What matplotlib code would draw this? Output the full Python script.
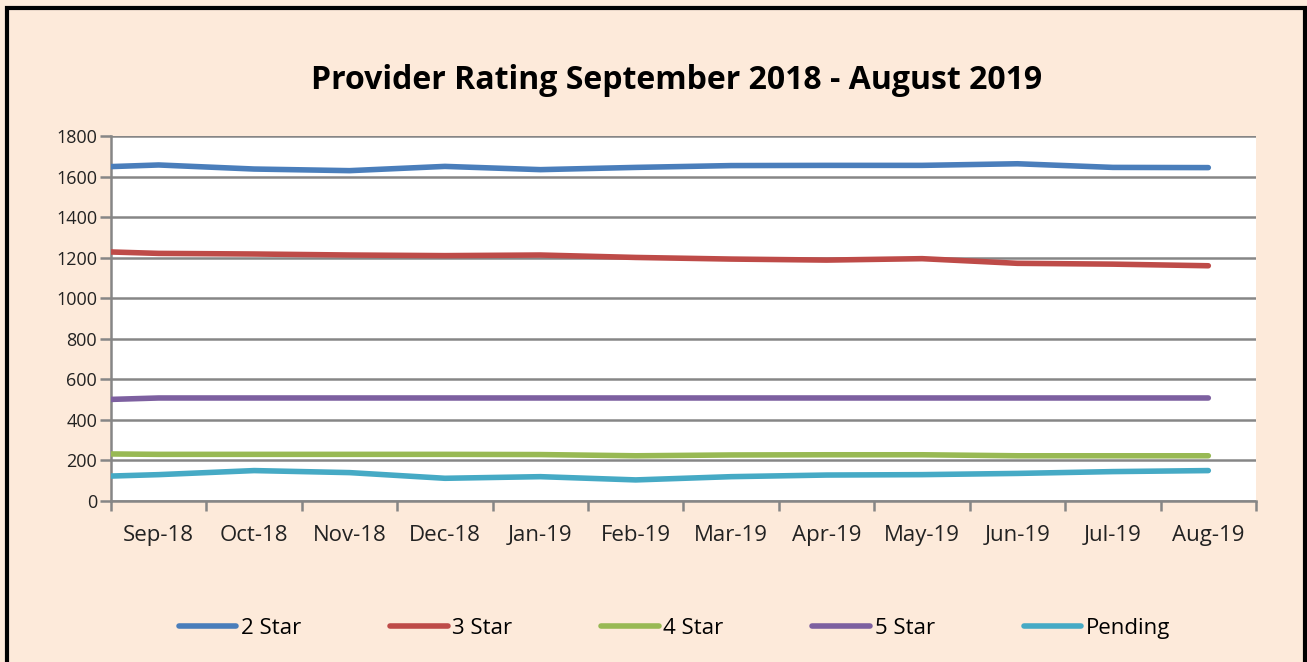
import numpy as np
import matplotlib.pyplot as plt
from matplotlib.patches import Rectangle

# Month labels
months = ["Sep-18", "Oct-18", "Nov-18", "Dec-18", "Jan-19", "Feb-19",
          "Mar-19", "Apr-19", "May-19", "Jun-19", "Jul-19", "Aug-19"]

# Each series: value at the left edge of the axis, then one value per month
star2_start = 1649
star2 = [1657, 1637, 1629, 1650, 1634, 1645, 1654, 1655, 1655, 1663, 1645, 1644]

star3_start = 1228
star3 = [1221, 1218, 1213, 1210, 1213, 1201, 1193, 1188, 1195, 1172, 1168, 1160]

star4_start = 232
star4 = [230, 230, 230, 230, 229, 223, 227, 228, 228, 223, 223, 223]

star5_start = 501
star5 = [508, 508, 508, 508, 508, 508, 508, 508, 508, 508, 508, 508]

pending_start = 123
pending = [130, 150, 140, 112, 120, 104, 120, 128, 130, 136, 145, 150]

series = [
    ("2 Star", star2_start, star2, "#4A7EBB"),
    ("3 Star", star3_start, star3, "#BE4B48"),
    ("4 Star", star4_start, star4, "#98B954"),
    ("5 Star", star5_start, star5, "#7D60A0"),
    ("Pending", pending_start, pending, "#46AAC5"),
]

bg = "#FDEADA"
grid_col = "#868686"
plt.rcParams['font.family'] = ['Open Sans', 'DejaVu Sans']

fig = plt.figure(figsize=(13.07, 6.62), dpi=100, facecolor=bg)
ax = fig.add_axes([0.0849, 0.2432, 0.8761, 0.5514])
ax.set_facecolor("white")

n = len(months)
xmin, xmax = -0.5, n - 0.5
x = np.r_[xmin, np.arange(n)]

for name, start, vals, col in series:
    ax.plot(x, np.r_[start, vals], color=col, lw=4, label=name,
            solid_capstyle="round", solid_joinstyle="round", zorder=3)

ax.set_xlim(xmin, xmax)
ax.set_ylim(0, 1800)
ax.set_yticks(np.arange(0, 1801, 200))
ax.yaxis.grid(True, color=grid_col, lw=1.8)
ax.set_axisbelow(True)

# tick marks between categories, labels at the centres
ax.set_xticks(np.arange(xmin, xmax + 0.01, 1))
ax.set_xticklabels([])
ax.set_xticks(np.arange(n), minor=True)
ax.set_xticklabels(months, minor=True)
ax.tick_params(axis="x", which="major", length=7, width=1.8, color=grid_col)
ax.tick_params(axis="x", which="minor", length=0, pad=17, labelsize=16,
               labelcolor="#222222")
ax.tick_params(axis="y", length=8, width=1.8, color=grid_col, labelsize=13,
               labelcolor="#222222", pad=2)

for s in ["top", "right"]:
    ax.spines[s].set_visible(False)
for s in ["left", "bottom"]:
    ax.spines[s].set_color(grid_col)
    ax.spines[s].set_linewidth(1.8)

fig.text(0.518, 0.879, "Provider Rating September 2018 - August 2019",
         ha="center", va="center", fontsize=23, fontweight="bold")

fig.legend(loc="center", bbox_to_anchor=(0.516, 0.051), ncol=5, frameon=False,
           fontsize=16, handlelength=2.6, handletextpad=0.2, columnspacing=4.0)

# black frame round the chart
fig.patches.append(Rectangle((7 / 1307, -0.05), 1298 / 1307, 1.05 - 8 / 662,
                             transform=fig.transFigure, fill=False,
                             edgecolor="black", lw=3))

fig.savefig("out.png", dpi=100, facecolor=bg)
